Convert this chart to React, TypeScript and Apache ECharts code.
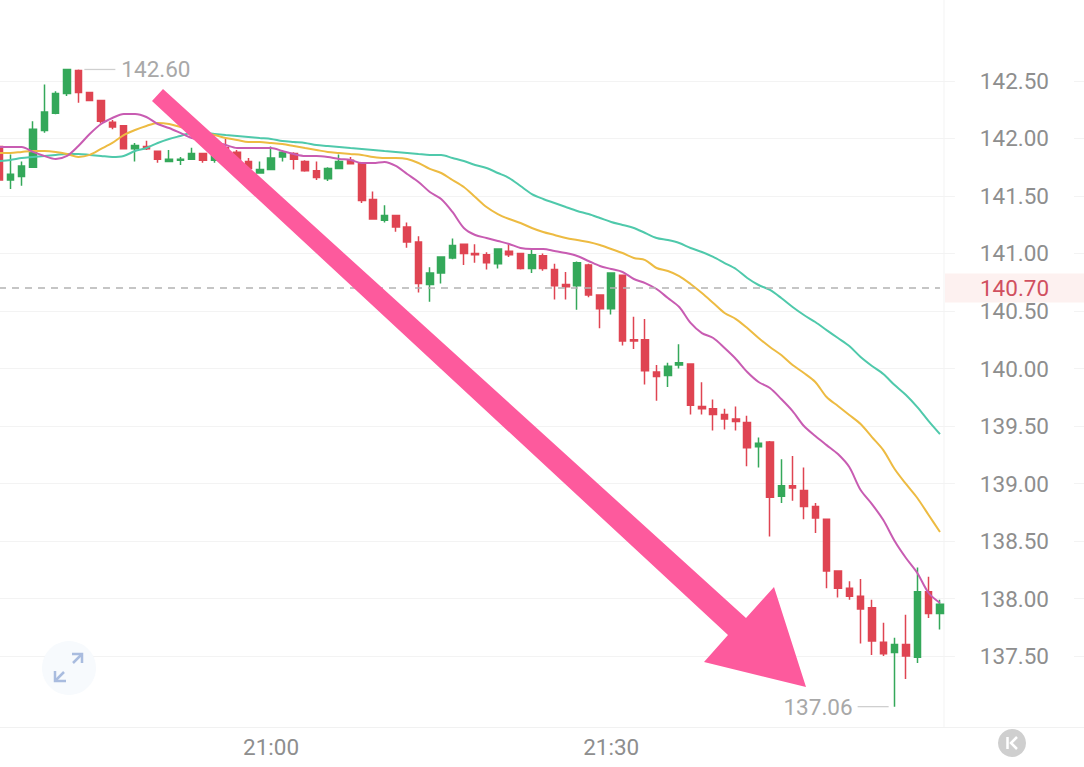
import React, { useEffect, useRef } from "react";
import * as echarts from "echarts";

const times = [
  "20:36","20:37","20:38","20:39","20:40","20:41","20:42","20:43","20:44","20:45","20:46","20:47",
  "20:48","20:49","20:50","20:51","20:52","20:53","20:54","20:55","20:56","20:57","20:58","20:59",
  "21:00","21:01","21:02","21:03","21:04","21:05","21:06","21:07","21:08","21:09","21:10","21:11",
  "21:12","21:13","21:14","21:15","21:16","21:17","21:18","21:19","21:20","21:21","21:22","21:23",
  "21:24","21:25","21:26","21:27","21:28","21:29","21:30","21:31","21:32","21:33","21:34","21:35",
  "21:36","21:37","21:38","21:39","21:40","21:41","21:42","21:43","21:44","21:45","21:46","21:47",
  "21:48","21:49","21:50","21:51","21:52","21:53","21:54","21:55","21:56","21:57","21:58","21:59",
];
const shownTimes = ["21:00", "21:30"];
const priceTicks = [142.5, 142, 141.5, 141, 140.5, 140, 139.5, 139, 138.5, 138, 137.5];

const opens = [
  141.93,141.64,141.67,141.75,142.07,142.22,142.39,142.59,142.40,142.33,142.14,142.11,
  141.91,141.93,141.89,141.80,141.81,141.82,141.87,141.81,141.92,141.88,141.80,141.70,
  141.73,141.84,141.87,141.80,141.72,141.65,141.74,141.81,141.78,141.47,141.29,141.33,
  141.23,141.10,140.73,140.83,140.96,141.08,141.00,140.99,140.91,141.02,141.00,140.87,
  140.98,140.86,140.73,140.72,140.90,140.64,140.52,140.81,140.25,140.25,139.97,139.94,
  140.03,140.04,139.67,139.65,139.60,139.56,139.53,139.32,139.36,138.89,138.98,138.94,
  138.80,138.69,138.24,138.09,138.02,137.92,137.62,137.53,137.60,137.49,138.06,137.87,
];
const closes = [
  141.64,141.69,141.76,142.08,142.23,142.39,142.60,142.40,142.33,142.15,142.10,141.91,
  141.94,141.91,141.82,141.82,141.82,141.87,141.81,141.85,141.83,141.81,141.74,141.73,
  141.83,141.88,141.82,141.72,141.66,141.74,141.80,141.78,141.46,141.30,141.33,141.23,
  141.10,140.74,140.83,140.97,141.07,141.00,140.99,140.92,141.04,140.99,140.87,140.99,
  140.87,140.72,140.71,140.92,140.64,140.52,140.83,140.24,140.24,139.98,139.93,140.02,
  140.05,139.68,139.65,139.60,139.56,139.54,139.31,139.35,138.88,138.98,138.96,138.80,
  138.70,138.24,138.09,138.02,137.91,137.63,137.52,137.60,137.50,138.06,137.87,137.95,
];
const lows = [
  141.64,141.56,141.59,141.75,142.05,142.21,142.37,142.31,142.33,142.13,142.08,141.91,
  141.80,141.90,141.79,141.80,141.77,141.82,141.79,141.79,141.81,141.79,141.70,141.70,
  141.73,141.80,141.73,141.71,141.64,141.63,141.74,141.78,141.44,141.30,141.27,141.19,
  141.05,140.66,140.58,140.74,140.95,140.90,140.92,140.86,140.87,140.97,140.86,140.83,
  140.85,140.60,140.60,140.51,140.62,140.35,140.47,140.20,140.17,139.86,139.72,139.84,
  140.00,139.60,139.60,139.46,139.47,139.46,139.15,139.14,138.54,138.83,138.85,138.69,
  138.57,138.09,138.01,137.99,137.61,137.51,137.50,137.06,137.30,137.44,137.83,137.73,
];
const highs = [
  141.93,141.86,141.80,142.15,142.47,142.41,142.60,142.60,142.40,142.33,142.16,142.11,
  141.96,141.98,141.89,141.90,141.84,141.92,141.87,141.88,142.00,141.90,141.83,141.80,
  141.93,141.89,141.88,141.81,141.80,141.75,141.86,141.84,141.78,141.54,141.42,141.33,
  141.27,141.15,140.88,140.97,141.13,141.08,141.08,141.01,141.04,141.08,141.00,141.04,
  141.00,140.91,140.84,140.93,140.91,140.64,140.83,140.81,140.45,140.43,140.03,140.05,
  140.21,140.04,139.88,139.73,139.65,139.67,139.59,139.40,139.37,139.21,139.24,139.14,
  138.83,138.69,138.24,138.15,138.17,137.99,137.79,137.66,137.86,138.27,138.19,137.99,
];
const maFast = [
  141.926,141.926,141.926,141.883,141.848,141.822,141.848,141.935,142.039,142.126,142.178,142.213,
  142.213,142.187,142.126,142.091,142.048,142.004,141.987,141.969,141.943,141.917,141.917,141.917,
  141.917,141.891,141.865,141.848,141.848,141.839,141.822,141.813,141.787,141.787,141.796,141.761,
  141.691,141.622,141.535,141.474,141.361,141.222,141.161,141.135,141.109,141.083,141.048,141.039,
  141.039,141.022,141.004,140.978,140.935,140.891,140.865,140.839,140.778,140.743,140.691,140.613,
  140.535,140.396,140.308,140.265,140.178,140.083,139.970,139.883,139.830,139.735,139.630,139.500,
  139.413,139.334,139.256,139.143,138.943,138.821,138.682,138.500,138.352,138.222,138.048,137.961,
];
const maMid = [
  141.874,141.874,141.883,141.891,141.891,141.883,141.865,141.839,141.857,141.909,141.961,142.030,
  142.074,142.109,142.135,142.126,142.100,142.074,142.048,142.030,142.004,141.987,141.969,141.969,
  141.961,141.952,141.935,141.917,141.900,141.883,141.874,141.865,141.857,141.839,141.830,141.830,
  141.822,141.787,141.735,141.700,141.639,141.578,141.491,141.404,141.343,141.300,141.265,141.222,
  141.187,141.161,141.135,141.117,141.100,141.074,141.039,141.004,140.961,140.943,140.874,140.848,
  140.804,140.735,140.656,140.570,140.483,140.430,140.352,140.265,140.187,140.117,140.030,139.961,
  139.883,139.752,139.674,139.596,139.517,139.404,139.291,139.126,138.996,138.874,138.726,138.578,
];
const maSlow = [
  141.804,141.813,141.830,141.839,141.848,141.857,141.865,141.865,141.857,141.848,141.839,141.848,
  141.891,141.917,141.961,141.996,142.022,142.048,142.048,142.039,142.030,142.022,142.013,142.004,
  141.996,141.978,141.969,141.961,141.943,141.935,141.926,141.917,141.909,141.900,141.891,141.883,
  141.874,141.865,141.857,141.857,141.830,141.804,141.769,141.743,141.700,141.656,141.587,141.517,
  141.474,141.439,141.404,141.370,141.343,141.309,141.274,141.248,141.222,141.178,141.135,141.117,
  141.091,141.048,141.013,140.970,140.917,140.865,140.787,140.726,140.683,140.613,140.535,140.465,
  140.404,140.334,140.265,140.195,140.100,140.022,139.952,139.856,139.770,139.665,139.543,139.430,
];
const lastPrice = 140.7;
const highPoint = { time: "20:43", price: 142.6 };
const lowPoint = { time: "21:55", price: 137.06 };

const FONT = "Roboto, sans-serif";
const SIZE = 22.5;
const lineStyleOf = (color: string) => ({
  type: "line", symbol: "none", smooth: 0.3, silent: true,
  lineStyle: { color, width: 2 },
});

export default function App() {
  const ref = useRef<HTMLDivElement>(null);
  useEffect(() => {
    const chart = echarts.init(ref.current!, undefined, { renderer: "svg" });
    const categories = [...times, ...Array(13).fill("")];
    chart.setOption({
      animation: false,
      backgroundColor: "#ffffff",
      grid: { left: -6.67, top: 0, width: 1099.7, height: 727, outerBoundsMode: "none" },
      xAxis: {
        type: "category",
        data: categories,
        boundaryGap: true,
        axisLine: { show: true, lineStyle: { color: "#f1f1f1", width: 1 } },
        axisTick: { show: false },
        splitLine: { show: false },
        axisLabel: {
          color: "#8e8e8e", fontSize: SIZE, fontFamily: FONT, margin: 8,
          interval: (_i: number, v: string) => shownTimes.includes(v),
        },
      },
      yAxis: {
        type: "value",
        position: "right",
        min: 136.883,
        max: 143.204,
        axisLine: { show: false },
        axisTick: { show: false, customValues: priceTicks },
        splitLine: { show: true, lineStyle: { color: "#f3f3f3", width: 1 } },
        axisLabel: {
          inside: true,
          margin: 19,
          customValues: priceTicks,
          color: "#8e8e8e",
          fontSize: SIZE,
          fontFamily: FONT,
          formatter: (v: number) => v.toFixed(2),
          backgroundColor: "#ffffff",
          padding: [0, 25],
          lineHeight: 14,
        },
      },
      series: [
        {
          type: "candlestick",
          barWidth: 7,
          silent: true,
          clip: false,
          data: times.map((_, i) => [opens[i], closes[i], lows[i], highs[i]]),
          itemStyle: {
            color: "#34a85a", color0: "#df4452",
            borderColor: "#34a85a", borderColor0: "#df4452", borderWidth: 1.5,
          },
          markLine: {
            silent: true,
            symbol: "none",
            animation: false,
            data: [[
              { coord: [times[0], lastPrice] },
              { coord: [times[times.length - 1], lastPrice] },
            ]],
            lineStyle: { color: "#b3b3b3", type: [7, 6], width: 1.5 },
            label: {
              show: true,
              position: "end",
              distance: 5,
              formatter: lastPrice.toFixed(2),
              color: "#d0505f",
              fontSize: SIZE,
              fontFamily: FONT,
              backgroundColor: "#fdf1f0",
              padding: [3, 35],
              lineHeight: 23,
            },
          },
          markPoint: {
            silent: true,
            animation: false,
            data: [
              {
                coord: [highPoint.time, highPoint.price],
                value: highPoint.price,
                symbol: "rect", symbolSize: [31, 1.3], symbolOffset: [21.5, 0],
                itemStyle: { color: "#cfcfcf" },
                label: {
                  show: true, position: "right", distance: 6, formatter: highPoint.price.toFixed(2),
                  color: "#a8a8a8", fontSize: SIZE, fontFamily: FONT,
                },
              },
              {
                coord: [lowPoint.time, lowPoint.price],
                value: lowPoint.price,
                symbol: "rect", symbolSize: [31, 1.3], symbolOffset: [-21.5, 0],
                itemStyle: { color: "#cfcfcf" },
                label: {
                  show: true, position: "left", distance: 5, formatter: lowPoint.price.toFixed(2),
                  color: "#a8a8a8", fontSize: SIZE, fontFamily: FONT,
                },
              },
            ],
          },
        },
        { ...lineStyleOf("#4fc9ab"), data: maSlow },
        { ...lineStyleOf("#edbb42"), data: maMid },
        { ...lineStyleOf("#c85cb2"), data: maFast },
      ],
      graphic: [
        { type: "line", z: 1, shape: { x1: 944, y1: 0, x2: 944, y2: 727 }, style: { stroke: "#f3f3f3", lineWidth: 1 } },
        {
          type: "polygon", z: 100,
          shape: { points: [[163, 89], [746, 618], [774, 587], [806, 687], [704, 662], [728, 635], [152, 101]] },
          style: { fill: "#fd5a9d" },
        },
        { type: "circle", z: 50, shape: { cx: 69, cy: 668, r: 27 }, style: { fill: "#f7fafd" } },
        { type: "polyline", z: 51, shape: { points: [[72, 654], [82, 654], [82, 663]] }, style: { stroke: "#a9bcdf", fill: "none", lineWidth: 2.5 } },
        { type: "line", z: 51, shape: { x1: 82, y1: 654, x2: 73, y2: 663 }, style: { stroke: "#a9bcdf", lineWidth: 2.5 } },
        { type: "polyline", z: 51, shape: { points: [[55, 671], [55, 681], [66, 681]] }, style: { stroke: "#a9bcdf", fill: "none", lineWidth: 2.5 } },
        { type: "line", z: 51, shape: { x1: 55, y1: 681, x2: 64, y2: 672 }, style: { stroke: "#a9bcdf", lineWidth: 2.5 } },
        { type: "circle", z: 50, shape: { cx: 1012, cy: 743, r: 14 }, style: { fill: "#cfcfcf" } },
        { type: "line", z: 51, shape: { x1: 1007.5, y1: 737, x2: 1007.5, y2: 749 }, style: { stroke: "#ffffff", lineWidth: 2.5 } },
        { type: "polyline", z: 51, shape: { points: [[1017, 737], [1011, 743], [1017, 749]] }, style: { stroke: "#ffffff", fill: "none", lineWidth: 2.5 } },
      ],
    });
    return () => chart.dispose();
  }, []);
  return <div ref={ref} style={{ position: "absolute", left: 0, top: 0, width: 1084, height: 767 }} />;
}
